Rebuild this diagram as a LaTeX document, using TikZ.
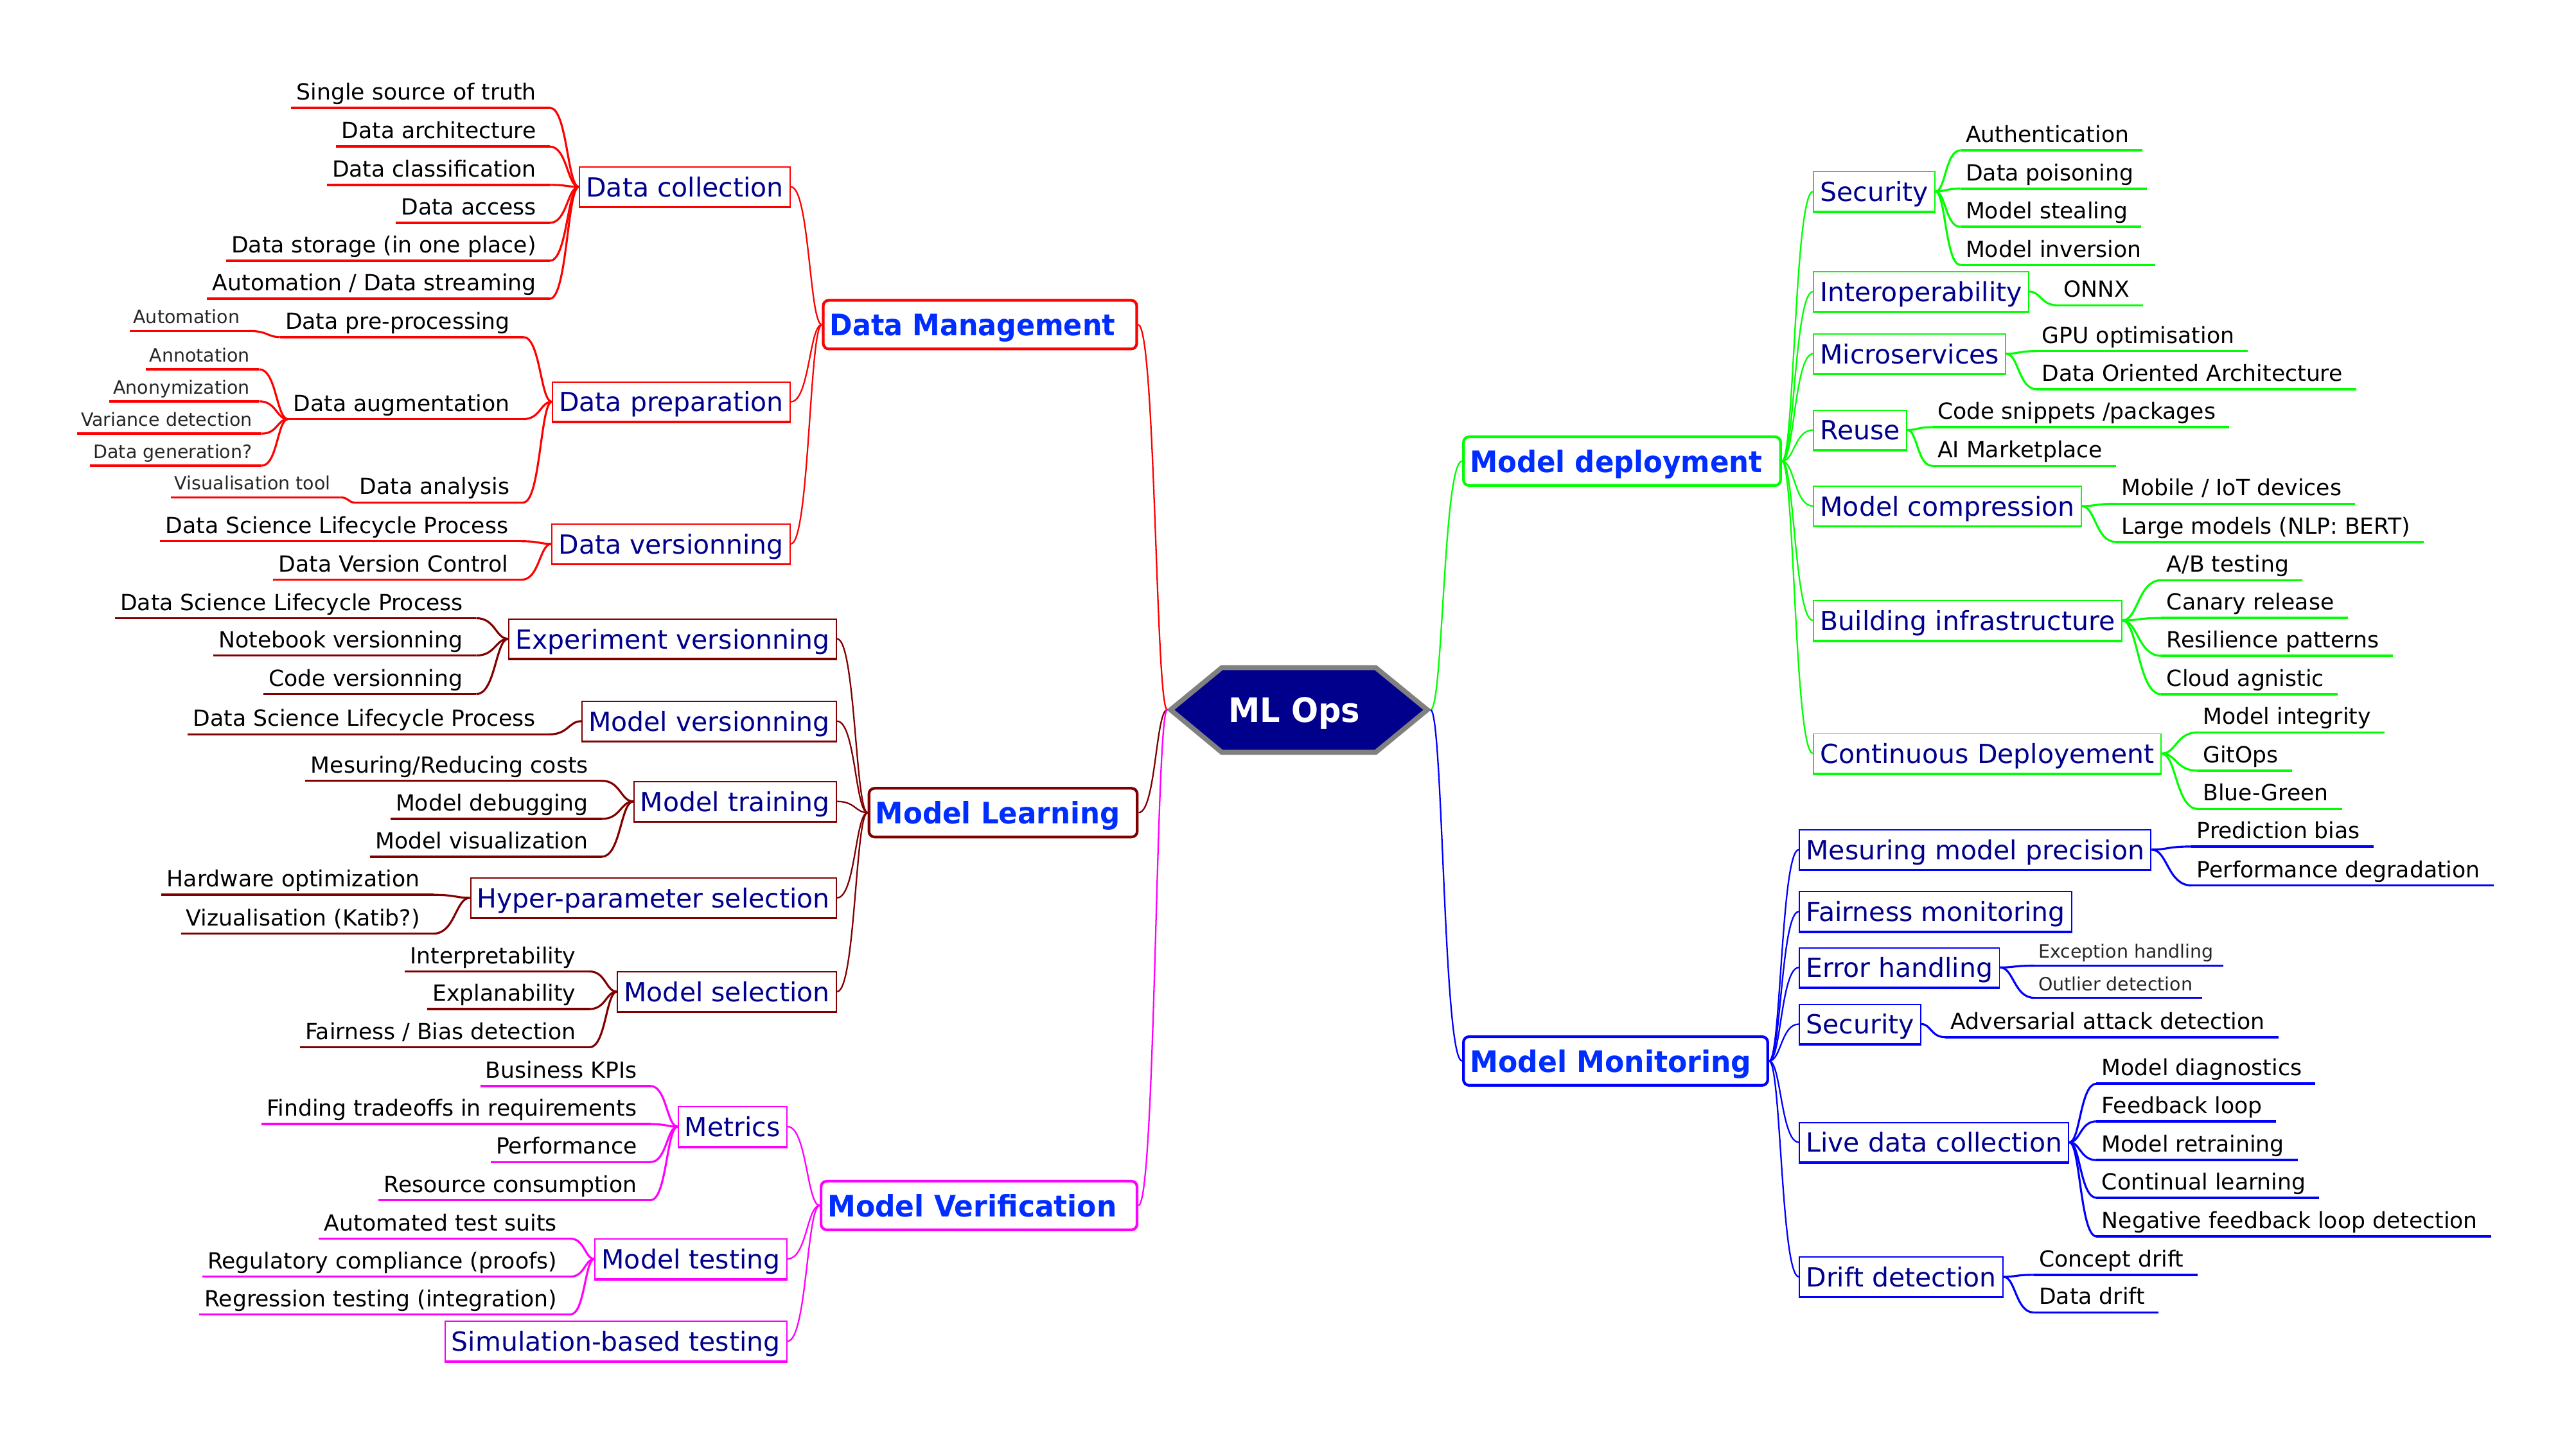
\documentclass[tikz,border=0pt]{standalone}
\usepackage{fontspec}
\setmainfont{DejaVu Sans}
\usepackage{graphicx}
\usetikzlibrary{calc}
\definecolor{cRed}{RGB}{255,0,0}
\definecolor{cMaroon}{RGB}{128,0,0}
\definecolor{cMag}{RGB}{255,0,255}
\definecolor{cGreen}{RGB}{0,255,0}
\definecolor{cBlue}{RGB}{0,0,255}
\definecolor{mainTxt}{RGB}{0,45,255}
\definecolor{subTxt}{RGB}{0,0,140}
\definecolor{hexFill}{RGB}{0,0,140}
\definecolor{hexLine}{RGB}{128,128,128}
\newlength\dpx \setlength\dpx{0.7285pt}
\newcommand\leaffont{\fontsize{9.85pt}{11pt}\selectfont}
\newcommand\smallleaffont{\fontsize{8.1pt}{9pt}\selectfont}
\newcommand\subfont{\fontsize{11.66pt}{13pt}\selectfont}
\newcommand\mainbranchfont{\fontsize{13.1pt}{15pt}\selectfont\bfseries}
\newcommand\centerfont{\fontsize{14.9pt}{17pt}\selectfont\bfseries}
\tikzset{
  leaf/.style={font=\leaffont, text=black, inner xsep=0pt, inner ysep=3.35pt,
    text height=7.5pt, text depth=0pt,
    execute at begin node={\hspace*{2.2pt}}, execute at end node={\hspace*{5.8pt}}},
  sleaf/.style={font=\smallleaffont, text=black!85, inner xsep=0pt, inner ysep=3.1pt,
    text height=6pt, text depth=0pt,
    execute at begin node={\hspace*{1.5pt}}, execute at end node={\hspace*{4pt}}},
  ul/.style={line width=1pt},
  subbox/.style={draw, fill=white, line width=0.55pt, font=\subfont, text=subTxt,
    inner xsep=2.9pt, inner ysep=1.5pt, text height=11.63pt, text depth=2.87pt},
  mainbox/.style={draw, fill=white, rounded corners=2.5pt, line width=1.2pt,
    font=\mainbranchfont, text=mainTxt, inner xsep=0pt, inner ysep=2pt,
    text height=13.76pt, text depth=3.8pt,
    execute at begin node={\hspace*{2.9pt}}},
  hexstyle/.style={draw=hexLine, fill=hexFill, line width=2.2pt, line join=miter},
}
% leaf: style, name, color, anchor, x, y, text
\newcommand\lf[7]{%
  \node[#1, anchor=#4] (#2) at (#5,#6) {#7};
  \draw[ul, #3] (#2.south west) -- (#2.south east);}
% sub box: name, color, anchor, x, y, text
\newcommand\subnode[6]{%
  \node[subbox, draw=#2, anchor=#3] (#1) at (#4,#5) {#6};
  \draw[#2, line width=1pt] (#1.south west) -- (#1.south east);}
% main box: name, color, left x, center y, text width, right pad, text
\newcommand\mainnode[7]{%
  \node[mainbox, draw=#2, anchor=west] (#1) at (#3,#4)
    {\resizebox{#5\dpx}{\height}{#7}\hspace*{#6\dpx}};}
% connector: color, width, child point, parent point
\newcommand\conn[4]{%
  \path (#3) coordinate (cA) (#4) coordinate (cB);
  \draw[#1, line width=#2] let \p1=(cA), \p2=(cB) in
    (\p1) .. controls ({\x1+0.6*(\x2-\x1)},\y1) and ({\x1+0.6*(\x2-\x1)},\y2) .. (\p2);}
\begin{document}
\begin{tikzpicture}[x=0.0257cm, y=-0.0257cm]
\useasboundingbox (0,0) rectangle (1560.3,872);

% ---------------- centre ----------------
\coordinate (hexL) at (707,430);
\coordinate (hexR) at (866.5,430);
\draw[hexstyle] (709,430) -- (740,404.5) -- (833.3,404.5) -- (864.5,430)
  -- (833.3,455.7) -- (740,455.7) -- cycle;
\node[font=\centerfont, text=white, inner sep=0pt, text height=10.9pt, text depth=0pt]
  (mlops) at (784,430) {\resizebox{80\dpx}{\height}{ML Ops}};

% ---------------- Data Management (red) ----------------
\mainnode{dm}{cRed}{497.8}{196.65}{173.5}{13.1}{Data Management}
\subnode{dcoll}{cRed}{east}{479}{113.2}{Data collection}
\subnode{dprep}{cRed}{east}{479}{243.4}{Data preparation}
\subnode{dvers}{cRed}{east}{479}{329.5}{Data versionning}
\lf{leaf}{l11}{cRed}{south east}{333}{65.3}{Single source of truth}
\lf{leaf}{l12}{cRed}{south east}{333}{88.8}{Data architecture}
\lf{leaf}{l13}{cRed}{south east}{333}{112}{Data classification}
\lf{leaf}{l14}{cRed}{south east}{333}{135}{Data access}
\lf{leaf}{l15}{cRed}{south east}{333}{158}{Data storage (in one place)}
\lf{leaf}{l16}{cRed}{south east}{333}{181}{Automation / Data streaming}
\lf{leaf}{l21}{cRed}{south east}{317}{204.2}{Data pre-processing}
\lf{leaf}{l22}{cRed}{south east}{317}{253.9}{Data augmentation}
\lf{leaf}{l23}{cRed}{south east}{317}{304.4}{Data analysis}
\lf{sleaf}{s211}{cRed}{south east}{151}{200.5}{Automation}
\lf{sleaf}{s221}{cRed}{south east}{157}{223.7}{Annotation}
\lf{sleaf}{s222}{cRed}{south east}{157}{243.1}{Anonymization}
\lf{sleaf}{s223}{cRed}{south east}{158.5}{262.7}{Variance detection}
\lf{sleaf}{s224}{cRed}{south east}{158.5}{282.1}{Data generation?}
\lf{sleaf}{s231}{cRed}{south east}{206}{301.3}{Visualisation tool}
\lf{leaf}{l31}{cRed}{south east}{316}{327.9}{Data Science Lifecycle Process}
\lf{leaf}{l32}{cRed}{south east}{316}{351.2}{Data Version Control}
\foreach \q in {l11,l12,l13,l14,l15,l16} {\conn{cRed}{0.9pt}{\q.south east}{dcoll.west}}
\foreach \q in {l21,l22,l23} {\conn{cRed}{0.9pt}{\q.south east}{dprep.west}}
\foreach \q in {l31,l32} {\conn{cRed}{0.9pt}{\q.south east}{dvers.west}}
\conn{cRed}{0.9pt}{s211.south east}{l21.south west}
\foreach \q in {s221,s222,s223,s224} {\conn{cRed}{0.9pt}{\q.south east}{l22.south west}}
\conn{cRed}{0.9pt}{s231.south east}{l23.south west}
\foreach \q in {dcoll,dprep,dvers} {\conn{cRed}{0.65pt}{\q.east}{dm.west}}
\conn{cRed}{0.65pt}{dm.east}{hexL}

% ---------------- Model Learning (maroon) ----------------
\mainnode{ml}{cMaroon}{525.5}{492.3}{148.6}{10.5}{Model Learning}
\subnode{expv}{cMaroon}{east}{507}{387}{Experiment versionning}
\subnode{modv}{cMaroon}{east}{507}{436.9}{Model versionning}
\subnode{modt}{cMaroon}{east}{507}{485.5}{Model training}
\subnode{hyper}{cMaroon}{east}{507}{543.9}{Hyper-parameter selection}
\subnode{msel}{cMaroon}{east}{507}{600.75}{Model selection}
\lf{leaf}{m11}{cMaroon}{south east}{288.5}{374.5}{Data Science Lifecycle Process}
\lf{leaf}{m12}{cMaroon}{south east}{288.5}{397.1}{Notebook versionning}
\lf{leaf}{m13}{cMaroon}{south east}{288.5}{420.5}{Code versionning}
\lf{leaf}{m21}{cMaroon}{south east}{332.6}{444.9}{Data Science Lifecycle Process}
\lf{leaf}{m31}{cMaroon}{south east}{364.5}{473}{Mesuring/Reducing costs}
\lf{leaf}{m32}{cMaroon}{south east}{364.5}{496.1}{Model debugging}
\lf{leaf}{m33}{cMaroon}{south east}{364.5}{519}{Model visualization}
\lf{leaf}{m41}{cMaroon}{south east}{262.5}{542.1}{Hardware optimization}
\lf{leaf}{m42}{cMaroon}{south east}{262.5}{565.6}{Vizualisation (Katib?)}
\lf{leaf}{m51}{cMaroon}{south east}{357}{588.5}{Interpretability}
\lf{leaf}{m52}{cMaroon}{south east}{357}{611.3}{Explanability}
\lf{leaf}{m53}{cMaroon}{south east}{357}{634.5}{Fairness / Bias detection}
\foreach \q in {m11,m12,m13} {\conn{cMaroon}{0.9pt}{\q.south east}{expv.west}}
\conn{cMaroon}{0.9pt}{m21.south east}{modv.west}
\foreach \q in {m31,m32,m33} {\conn{cMaroon}{0.9pt}{\q.south east}{modt.west}}
\foreach \q in {m41,m42} {\conn{cMaroon}{0.9pt}{\q.south east}{hyper.west}}
\foreach \q in {m51,m52,m53} {\conn{cMaroon}{0.9pt}{\q.south east}{msel.west}}
\foreach \q in {expv,modv,modt,hyper,msel} {\conn{cMaroon}{0.65pt}{\q.east}{ml.west}}
\conn{cMaroon}{0.65pt}{ml.east}{hexL}

% ---------------- Model Verification (magenta) ----------------
\mainnode{mv}{cMag}{496.5}{730.3}{175.8}{12.3}{Model Verification}
\subnode{metr}{cMag}{east}{477}{682.5}{Metrics}
\subnode{mtest}{cMag}{east}{477}{762.65}{Model testing}
\subnode{simb}{cMag}{east}{477}{812.5}{Simulation-based testing}
\lf{leaf}{v11}{cMag}{south east}{394}{657.9}{Business KPIs}
\lf{leaf}{v12}{cMag}{south east}{394}{681}{Finding tradeoffs in requirements}
\lf{leaf}{v13}{cMag}{south east}{394}{704}{Performance}
\lf{leaf}{v14}{cMag}{south east}{394}{727.1}{Resource consumption}
\lf{leaf}{v21}{cMag}{south east}{345.5}{750.4}{Automated test suits}
\lf{leaf}{v22}{cMag}{south east}{345.5}{773.4}{Regulatory compliance (proofs)}
\lf{leaf}{v23}{cMag}{south east}{345.5}{796.3}{Regression testing (integration)}
\foreach \q in {v11,v12,v13,v14} {\conn{cMag}{0.9pt}{\q.south east}{metr.west}}
\foreach \q in {v21,v22,v23} {\conn{cMag}{0.9pt}{\q.south east}{mtest.west}}
\foreach \q in {metr,mtest,simb} {\conn{cMag}{0.65pt}{\q.east}{mv.west}}
\conn{cMag}{0.65pt}{mv.east}{hexL}

% ---------------- Model deployment (green) ----------------
\mainnode{md}{cGreen}{885.6}{279.35}{177.6}{11.2}{Model deployment}
\subnode{gsec}{cGreen}{west}{1098.2}{116}{Security}
\subnode{ginter}{cGreen}{west}{1098.2}{176.6}{Interoperability}
\subnode{gmicro}{cGreen}{west}{1098.2}{214.3}{Microservices}
\subnode{greuse}{cGreen}{west}{1098.2}{260.5}{Reuse}
\subnode{gcomp}{cGreen}{west}{1098.2}{306.6}{Model compression}
\subnode{gbuild}{cGreen}{west}{1098.2}{375.9}{Building infrastructure}
\subnode{gcd}{cGreen}{west}{1098.2}{456.5}{Continuous Deployement}
\lf{leaf}{g11}{cGreen}{south west}{1187.4}{91.1}{Authentication}
\lf{leaf}{g12}{cGreen}{south west}{1187.4}{114.3}{Data poisoning}
\lf{leaf}{g13}{cGreen}{south west}{1187.4}{137.4}{Model stealing}
\lf{leaf}{g14}{cGreen}{south west}{1187.4}{160.5}{Model inversion}
\lf{leaf}{g21}{cGreen}{south west}{1246.6}{185}{ONNX}
\lf{leaf}{g31}{cGreen}{south west}{1233.6}{212.7}{GPU optimisation}
\lf{leaf}{g32}{cGreen}{south west}{1233.6}{235.8}{Data Oriented Architecture}
\lf{leaf}{g41}{cGreen}{south west}{1170.3}{258.8}{Code snippets /packages}
\lf{leaf}{g42}{cGreen}{south west}{1170.3}{282.2}{AI Marketplace}
\lf{leaf}{g51}{cGreen}{south west}{1281.7}{305.2}{Mobile / IoT devices}
\lf{leaf}{g52}{cGreen}{south west}{1281.7}{328.3}{Large models (NLP: BERT)}
\lf{leaf}{g61}{cGreen}{south west}{1309.1}{351.5}{A/B testing}
\lf{leaf}{g62}{cGreen}{south west}{1309.1}{374.4}{Canary release}
\lf{leaf}{g63}{cGreen}{south west}{1309.1}{397.3}{Resilience patterns}
\lf{leaf}{g64}{cGreen}{south west}{1309.1}{420.6}{Cloud agnistic}
\lf{leaf}{g71}{cGreen}{south west}{1331.1}{443.7}{Model integrity}
\lf{leaf}{g72}{cGreen}{south west}{1331.1}{466.9}{GitOps}
\lf{leaf}{g73}{cGreen}{south west}{1331.1}{490}{Blue-Green}
\foreach \q in {g11,g12,g13,g14} {\conn{cGreen}{0.9pt}{\q.south west}{gsec.east}}
\conn{cGreen}{0.9pt}{g21.south west}{ginter.east}
\foreach \q in {g31,g32} {\conn{cGreen}{0.9pt}{\q.south west}{gmicro.east}}
\foreach \q in {g41,g42} {\conn{cGreen}{0.9pt}{\q.south west}{greuse.east}}
\foreach \q in {g51,g52} {\conn{cGreen}{0.9pt}{\q.south west}{gcomp.east}}
\foreach \q in {g61,g62,g63,g64} {\conn{cGreen}{0.9pt}{\q.south west}{gbuild.east}}
\foreach \q in {g71,g72,g73} {\conn{cGreen}{0.9pt}{\q.south west}{gcd.east}}
\foreach \q in {gsec,ginter,gmicro,greuse,gcomp,gbuild,gcd} {\conn{cGreen}{0.65pt}{\q.west}{md.east}}
\conn{cGreen}{0.65pt}{md.west}{hexR}

% ---------------- Model Monitoring (blue) ----------------
\mainnode{mm}{cBlue}{885.6}{642.75}{171.1}{9.9}{Model Monitoring}
\subnode{bprec}{cBlue}{west}{1089.6}{514.7}{Mesuring model precision}
\subnode{bfair}{cBlue}{west}{1089.6}{552.2}{Fairness monitoring}
\subnode{berr}{cBlue}{west}{1089.6}{586.1}{Error handling}
\subnode{bsec}{cBlue}{west}{1089.6}{620.4}{Security}
\subnode{blive}{cBlue}{west}{1089.6}{692}{Live data collection}
\subnode{bdrift}{cBlue}{west}{1089.6}{773.5}{Drift detection}
\lf{leaf}{b11}{cBlue}{south west}{1327.4}{512.8}{Prediction bias}
\lf{leaf}{b12}{cBlue}{south west}{1327.4}{536.4}{Performance degradation}
\lf{sleaf}{b31}{cBlue}{south west}{1232.3}{585}{Exception handling}
\lf{sleaf}{b32}{cBlue}{south west}{1232.3}{604.5}{Outlier detection}
\lf{leaf}{b41}{cBlue}{south west}{1178.2}{628.3}{Adversarial attack detection}
\lf{leaf}{b51}{cBlue}{south west}{1269.8}{656.5}{Model diagnostics}
\lf{leaf}{b52}{cBlue}{south west}{1269.8}{679.3}{Feedback loop}
\lf{leaf}{b53}{cBlue}{south west}{1269.8}{702.8}{Model retraining}
\lf{leaf}{b54}{cBlue}{south west}{1269.8}{725.6}{Continual learning}
\lf{leaf}{b55}{cBlue}{south west}{1269.8}{749}{Negative feedback loop detection}
\lf{leaf}{b61}{cBlue}{south west}{1231.8}{772.3}{Concept drift}
\lf{leaf}{b62}{cBlue}{south west}{1231.8}{795.1}{Data drift}
\foreach \q in {b11,b12} {\conn{cBlue}{0.9pt}{\q.south west}{bprec.east}}
\foreach \q in {b31,b32} {\conn{cBlue}{0.9pt}{\q.south west}{berr.east}}
\conn{cBlue}{0.9pt}{b41.south west}{bsec.east}
\foreach \q in {b51,b52,b53,b54,b55} {\conn{cBlue}{0.9pt}{\q.south west}{blive.east}}
\foreach \q in {b61,b62} {\conn{cBlue}{0.9pt}{\q.south west}{bdrift.east}}
\foreach \q in {bprec,bfair,berr,bsec,blive,bdrift} {\conn{cBlue}{0.65pt}{\q.west}{mm.east}}
\conn{cBlue}{0.65pt}{mm.west}{hexR}
\end{tikzpicture}
\end{document}
